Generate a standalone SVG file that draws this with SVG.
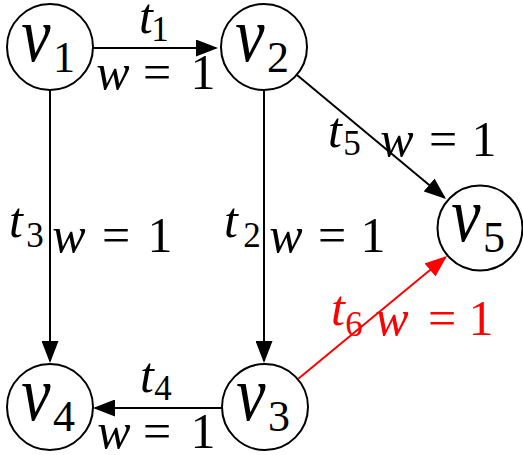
<svg xmlns="http://www.w3.org/2000/svg" width="523" height="455" viewBox="0 0 523 455" font-family="'Liberation Serif', 'Times New Roman', serif">
<style>
text{font-family:'Liberation Serif','Times New Roman',serif;fill:#000}
.it{font-style:italic}
.nv{font-size:66px;font-style:italic;text-anchor:middle}
.ns{font-size:44px;text-anchor:middle}
.lb{font-size:50px;text-anchor:middle}
.sb{font-size:35px;text-anchor:middle}
text.red{fill:#ff0000}
circle{fill:#fff;stroke:#000;stroke-width:2}
.e{stroke:#000;stroke-width:2;fill:none}
.er{stroke:#ff0000;stroke-width:2;fill:none}
</style>
<defs>
<marker id="ah" markerUnits="userSpaceOnUse" markerWidth="22" markerHeight="17" refX="20" refY="8.5" orient="auto">
<path d="M0,0 L22,8.5 L0,17 Z" fill="#000"/>
</marker>
<marker id="ahr" markerUnits="userSpaceOnUse" markerWidth="22" markerHeight="17" refX="20" refY="8.5" orient="auto">
<path d="M0,0 L22,8.5 L0,17 Z" fill="#ff0000"/>
</marker>
</defs>
<g id="connectors">
<g id="e1"><line class="e" x1="93" y1="48" x2="216" y2="48" marker-end="url(#ah)"/>
<text class="lb it" x="146" y="33">t</text><text class="sb" x="160" y="41">1</text>
<text class="lb it" x="113" y="89">w</text><text class="lb" x="157" y="89">=</text><text class="lb" x="203" y="89">1</text></g>
<g id="e3"><line class="e" x1="50" y1="90" x2="50" y2="361" marker-end="url(#ah)"/>
<text class="lb it" x="16" y="237">t</text><text class="sb" x="35" y="247">3</text>
<text class="lb it" x="69" y="252">w</text><text class="lb" x="116" y="252">=</text><text class="lb" x="160" y="252">1</text></g>
<g id="e2"><line class="e" x1="264" y1="90" x2="264" y2="361" marker-end="url(#ah)"/>
<text class="lb it" x="231" y="237">t</text><text class="sb" x="252" y="247">2</text>
<text class="lb it" x="286" y="252">w</text><text class="lb" x="332" y="252">=</text><text class="lb" x="373" y="252">1</text></g>
<g id="e4"><line class="e" x1="222" y1="408" x2="95" y2="408" marker-end="url(#ah)"/>
<text class="lb it" x="147" y="392">t</text><text class="sb" x="163" y="400">4</text>
<text class="lb it" x="114" y="448">w</text><text class="lb" x="157" y="448">=</text><text class="lb" x="203" y="448">1</text></g>
<g id="e5"><line class="e" x1="297" y1="75" x2="444.5" y2="197.7" marker-end="url(#ah)"/>
<text class="lb it" x="335" y="147">t</text><text class="sb" x="352" y="155">5</text>
<text class="lb it" x="397" y="156">w</text><text class="lb" x="443" y="156">=</text><text class="lb" x="484" y="156">1</text></g>
<g id="e6"><line class="er" x1="298" y1="379" x2="445.5" y2="257.3" marker-end="url(#ahr)"/>
<text class="lb it red" x="338" y="325">t</text><text class="sb red" x="354" y="336">6</text>
<text class="lb it red" x="392" y="335">w</text><text class="lb red" x="442" y="335">=</text><text class="lb red" x="481" y="335">1</text></g>
</g>
<g id="v1"><circle cx="50" cy="47" r="43"/>
<text class="nv" transform="translate(36,61) scale(1,1.2)">v</text><text class="ns" x="64" y="72">1</text></g>
<g id="v2"><circle cx="264" cy="47" r="43"/>
<text class="nv" transform="translate(250,61) scale(1,1.2)">v</text><text class="ns" x="278" y="72">2</text></g>
<g id="v5"><circle cx="480" cy="228" r="42.5"/>
<text class="nv" transform="translate(466,241) scale(1,1.2)">v</text><text class="ns" x="494" y="252">5</text></g>
<g id="v4"><circle cx="50" cy="407" r="43"/>
<text class="nv" transform="translate(36,420) scale(1,1.2)">v</text><text class="ns" x="64" y="431">4</text></g>
<g id="v3"><circle cx="265" cy="407" r="43"/>
<text class="nv" transform="translate(251,420) scale(1,1.2)">v</text><text class="ns" x="279" y="431">3</text></g>
</svg>
